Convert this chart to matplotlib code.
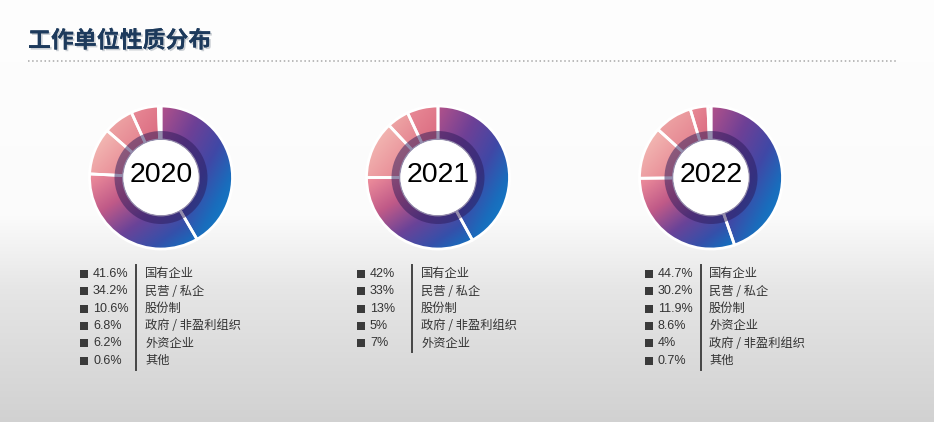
import numpy as np
import matplotlib
matplotlib.use("Agg")
import matplotlib.pyplot as plt
from matplotlib.colors import LinearSegmentedColormap
from matplotlib.patches import Wedge, Circle
import matplotlib.patheffects as pe

# ---------------- data ----------------
title = "工作单位性质分布"
years = ["2020", "2021", "2022"]

categories_2020 = ["国有企业", "民营 / 私企", "股份制", "政府 / 非盈利组织", "外资企业", "其他"]
values_2020 = [41.6, 34.2, 10.6, 6.8, 6.2, 0.6]

categories_2021 = ["国有企业", "民营 / 私企", "股份制", "政府 / 非盈利组织", "外资企业"]
values_2021 = [42, 33, 13, 5, 7]

categories_2022 = ["国有企业", "民营 / 私企", "股份制", "外资企业", "政府 / 非盈利组织", "其他"]
values_2022 = [44.7, 30.2, 11.9, 8.6, 4, 0.7]

all_categories = [categories_2020, categories_2021, categories_2022]
all_values = [values_2020, values_2021, values_2022]

# ---------------- layout / style ----------------
W, H = 934, 422
fig = plt.figure(figsize=(W / 100, H / 100), dpi=100)

ax = fig.add_axes([0, 0, 1, 1])
ax.set_xlim(0, W)
ax.set_ylim(H, 0)
ax.axis("off")

# background: white top fading to light grey at the bottom
yy = np.arange(H)
g = np.interp(yy, [0, 215, 290, 422], [0.995, 0.985, 0.9, 0.82])
bg = np.repeat(np.repeat(g[:, None], 4, axis=1)[:, :, None], 3, axis=2)
ax.imshow(bg, extent=[0, W, H, 0], aspect="auto", zorder=0, interpolation="bilinear")

# title
ax.text(28, 41, title, fontsize=16.5, fontweight="bold", color="#1d3a5c",
        family=["Noto Sans CJK SC", "DejaVu Sans"], ha="left", va="center",
        path_effects=[pe.withSimplePatchShadow(offset=(1.2, -1.2), shadow_rgbFace="#9aa3ad", alpha=0.5),
                      pe.Normal()], zorder=3)
ax.plot([28, 898], [61, 61], color="#a8a8a8", lw=1.1, linestyle=(0, (1, 1.7)),
        solid_capstyle="round", zorder=3)

cmaps = [
    [(0, "#b3528a"), (0.3, "#6e4096"), (0.55, "#4048a6"), (0.75, "#1a6cbc"), (1, "#0a8ad0")],
    [(0, "#f0909c"), (0.3, "#c05a88"), (0.55, "#6a4398"), (0.78, "#3550aa"), (1, "#0a78c4")],
    [(0, "#f6c6bc"), (1, "#e57f8e")],
    [(0, "#f0aeaa"), (1, "#e27a8b")],
    [(0, "#e98c97"), (1, "#d9687f")],
    [(0, "#e07888"), (1, "#d6657e")],
]

cxs = [161, 438, 711]
cy = 177.5
R, r_hole, r_dark = 71.5, 37.5, 46.5
S = 160

for k, (year, vals) in enumerate(zip(years, all_values)):
    cx = cxs[k]
    dax = fig.add_axes([(cx - S / 2) / W, (H - cy - S / 2) / H, S / W, S / H])
    wedges, _ = dax.pie(vals, radius=R, startangle=90, counterclock=False,
                        wedgeprops=dict(width=R - r_hole, edgecolor="white", linewidth=2.0))
    n = 160
    u = np.linspace(0, 1, n)
    U, V = np.meshgrid(u, u)
    T = (U + V) / 2
    for i, w in enumerate(wedges):
        bb = w.get_path().get_extents()
        cm = LinearSegmentedColormap.from_list("c%d" % i, cmaps[min(i, len(cmaps) - 1)])
        im = dax.imshow(cm(T), extent=[bb.x0, bb.x1, bb.y0, bb.y1], origin="upper",
                        zorder=2, interpolation="bilinear")
        im.set_clip_path(w)
        w.set_facecolor("none")
        w.set_zorder(3)
    dax.add_patch(Wedge((0, 0), r_dark, 0, 360, width=r_dark - r_hole,
                        facecolor="#2b1a5a", alpha=0.5, edgecolor="none", zorder=4))
    dax.add_patch(Circle((0, 0), r_hole, facecolor="white", edgecolor="none", zorder=5))
    dax.text(0, 3, year, ha="center", va="center", fontsize=20.5,
             family=["Liberation Sans", "DejaVu Sans"], color="#000000", zorder=6)
    dax.set_xlim(-S / 2, S / 2)
    dax.set_ylim(-S / 2, S / 2)
    dax.set_aspect("equal")
    dax.axis("off")

# legends
sq_x = [83.5, 360.5, 648.5]
pct_x = [93, 370, 658]
line_x = [136, 412, 701]
cat_x = [145, 421, 709]
row_y0, dy = 274, 17.3

for k, (cats, vals) in enumerate(zip(all_categories, all_values)):
    ys = [row_y0 + j * dy for j in range(len(vals))]
    ax.scatter([sq_x[k]] * len(vals), ys, marker="s", s=34, color="#3a3a3a", zorder=4, linewidths=0)
    for j, (c, v) in enumerate(zip(cats, vals)):
        ax.text(pct_x[k], ys[j], f"{v:g}%", fontsize=9, color="#333333",
                family=["Liberation Sans", "DejaVu Sans"], ha="left", va="center", zorder=4)
        ax.text(cat_x[k], ys[j], c, fontsize=8.8, color="#333333",
                family=["Noto Sans CJK SC", "DejaVu Sans"], ha="left", va="center", zorder=4)
    ax.plot([line_x[k], line_x[k]], [265, ys[-1] + 9], color="#444444", lw=1.4, zorder=4)

fig.savefig("out.png", dpi=100)
